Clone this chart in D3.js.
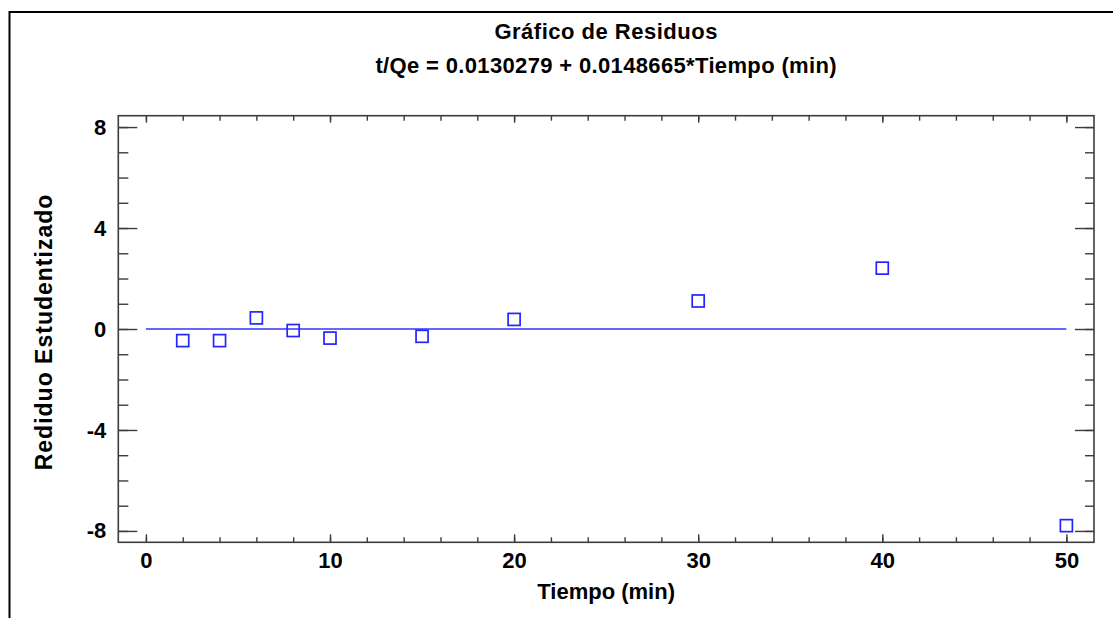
<!DOCTYPE html>
<html>
<head>
<meta charset="utf-8">
<script src="https://cdn.jsdelivr.net/npm/d3@7"></script>
<style>
  body { margin: 0; background: #fff; }
  text { font-family: "Liberation Sans", Arial, sans-serif; font-weight: bold; fill: #000; }
</style>
</head>
<body>
<div id="chart"></div>
<script>
// residual data
const tiempo = [2, 4, 6, 8, 10, 15, 20, 30, 40, 50];
const residuo = [-0.46, -0.46, 0.44, -0.06, -0.36, -0.29, 0.38, 1.11, 2.41, -7.79];
const xMajorTicks = [0, 10, 20, 30, 40, 50];
const yMajorTicks = [-8, -4, 0, 4, 8];
const titleLines = ["Gráfico de Residuos", "t/Qe = 0.0130279 + 0.0148665*Tiempo (min)"];
const xLabel = "Tiempo (min)";
const yLabel = "Rediduo Estudentizado";

const W = 1113, H = 618;
const margin = { top: 115.7, right: 19, bottom: 75.7, left: 118.3 };
const width = W - margin.left - margin.right;
const height = H - margin.top - margin.bottom;

const svg = d3.select('#chart').append('svg')
  .attr('width', W)
  .attr('height', H);

// outer border (runs off the right and bottom edges)
svg.append('rect')
  .attr('x', 9.5).attr('y', 12)
  .attr('width', 1300).attr('height', 800)
  .attr('fill', 'none')
  .attr('stroke', '#000')
  .attr('stroke-width', 2);

const g = svg.append('g')
  .attr('transform', 'translate(' + margin.left + ',' + margin.top + ')');

const x = d3.scaleLinear().domain([-1.5, 51.5]).range([0, width]);
const y = d3.scaleLinear().domain([-8.45, 8.45]).range([height, 0]);

const axisColor = '#3c3c3c';
const plainNum = function(d) { return String(d) };

function styleAxis(sel) {
  sel.select('.domain').remove();
  sel.selectAll('.tick line').attr('stroke', axisColor).attr('stroke-width', 1.4);
  sel.selectAll('.tick text')
    .attr('font-size', 22)
    .attr('font-family', '"Liberation Sans", Arial, sans-serif')
    .attr('font-weight', 'bold')
    .attr('fill', '#000');
}

const xMinor = d3.range(0, 51, 2);
const yMinor = d3.range(-8, 9, 1);

// bottom
g.append('g').attr('transform', 'translate(0,' + height + ')')
  .call(d3.axisBottom(x).tickValues(xMinor).tickSize(-5).tickFormat(''))
  .call(styleAxis);
g.append('g').attr('transform', 'translate(0,' + height + ')')
  .call(d3.axisBottom(x).tickValues(xMajorTicks).tickSize(-8).tickPadding(10).tickFormat(plainNum))
  .call(styleAxis);
// top
g.append('g')
  .call(d3.axisTop(x).tickValues(xMinor).tickSize(-5).tickFormat(''))
  .call(styleAxis);
g.append('g')
  .call(d3.axisTop(x).tickValues(xMajorTicks).tickSize(-7).tickFormat(''))
  .call(styleAxis);
// left
g.append('g')
  .call(d3.axisLeft(y).tickValues(yMinor).tickSize(-10).tickFormat(''))
  .call(styleAxis);
g.append('g')
  .call(d3.axisLeft(y).tickValues(yMajorTicks).tickSize(-19).tickPadding(12).tickFormat(plainNum))
  .call(styleAxis);
// right
g.append('g').attr('transform', 'translate(' + width + ',0)')
  .call(d3.axisRight(y).tickValues(yMinor).tickSize(-9).tickFormat(''))
  .call(styleAxis);
g.append('g').attr('transform', 'translate(' + width + ',0)')
  .call(d3.axisRight(y).tickValues(yMajorTicks).tickSize(-19).tickFormat(''))
  .call(styleAxis);

// frame
g.append('rect')
  .attr('width', width).attr('height', height)
  .attr('fill', 'none')
  .attr('stroke', axisColor)
  .attr('stroke-width', 1.6);

// zero line from first to last x
g.append('line')
  .attr('x1', x(0)).attr('x2', x(50))
  .attr('y1', y(0)).attr('y2', y(0))
  .attr('stroke', '#3535ff')
  .attr('stroke-width', 1.5);

// residual markers
const s = 12;
g.selectAll('.pt')
  .data(tiempo)
  .enter().append('rect')
    .attr('class', 'pt')
    .attr('x', function(d) { return x(d) - s / 2 })
    .attr('y', function(d, i) { return y(residuo[i]) - s / 2 })
    .attr('width', s).attr('height', s)
    .attr('fill', 'none')
    .attr('stroke', '#2424ff')
    .attr('stroke-width', 1.7);

// titles
const cx = margin.left + width / 2;
svg.append('text')
  .attr('x', cx).attr('y', 39)
  .attr('text-anchor', 'middle')
  .attr('font-size', 22)
  .attr('letter-spacing', 0.5)
  .text(titleLines[0]);
svg.append('text')
  .attr('x', cx).attr('y', 73)
  .attr('text-anchor', 'middle')
  .attr('font-size', 22)
  .attr('letter-spacing', 0.35)
  .text(titleLines[1]);

svg.append('text')
  .attr('x', cx).attr('y', 599)
  .attr('text-anchor', 'middle')
  .attr('font-size', 22)
  .text(xLabel);

svg.append('text')
  .attr('transform', 'translate(51.5,' + (margin.top + height / 2 + 3) + ') rotate(-90)')
  .attr('text-anchor', 'middle')
  .attr('font-size', 23)
  .attr('letter-spacing', 1)
  .text(yLabel);
</script>
</body>
</html>
